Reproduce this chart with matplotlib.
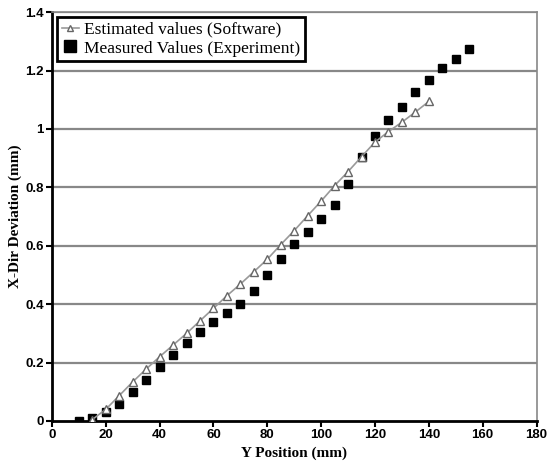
import numpy as np
import matplotlib.pyplot as plt
from matplotlib.lines import Line2D

# Estimated values (Software)
est_x = [15, 20, 25, 30, 35, 40, 45, 50, 55, 60, 65, 70, 75, 80, 85, 90,
         95, 100, 105, 110, 115, 120, 125, 130, 135, 140]
est_y = [0.005, 0.04, 0.087, 0.134, 0.178, 0.22, 0.26, 0.30, 0.343, 0.386,
         0.429, 0.469, 0.511, 0.554, 0.604, 0.652, 0.703, 0.753, 0.806,
         0.854, 0.905, 0.955, 0.991, 1.023, 1.058, 1.094]

# Measured values (Experiment)
meas_x = [10, 15, 20, 25, 30, 35, 40, 45, 50, 55, 60, 65, 70, 75, 80, 85,
          90, 95, 100, 105, 110, 115, 120, 125, 130, 135, 140, 145, 150, 155]
meas_y = [0.0, 0.011, 0.032, 0.058, 0.099, 0.140, 0.184, 0.225, 0.266,
          0.306, 0.338, 0.369, 0.40, 0.446, 0.50, 0.555, 0.606, 0.647,
          0.691, 0.741, 0.81, 0.904, 0.976, 1.03, 1.074, 1.126, 1.168,
          1.21, 1.239, 1.273]

fig = plt.figure(figsize=(5.5, 4.66), dpi=100)
ax = fig.add_axes([0.0945, 0.0966, 0.881, 0.8774])

for yv in np.arange(0.2, 1.41, 0.2):
    ax.axhline(yv, color='#888888', lw=1.6, zorder=0)

ax.plot(meas_x, meas_y, linestyle='none', marker='s', ms=5.5, color='black',
        zorder=2)
ax.plot(est_x, est_y, color='#999999', lw=1.2, marker='^', ms=6,
        mfc='white', mec='#666666', mew=1.0, zorder=3)

ax.set_xlim(0, 180)
ax.set_ylim(0, 1.4)
ax.set_xticks(range(0, 181, 20))
ax.set_yticks([0, 0.2, 0.4, 0.6, 0.8, 1, 1.2, 1.4])
ax.set_yticklabels(['0', '0.2', '0.4', '0.6', '0.8', '1', '1.2', '1.4'])

for lab in ax.get_xticklabels() + ax.get_yticklabels():
    lab.set_fontfamily('Liberation Sans')
    lab.set_fontweight('bold')
    lab.set_fontsize(9.5)

ax.tick_params(axis='both', direction='out', length=4, width=1.5, color='black', pad=2)
ax.spines['left'].set_linewidth(2)
ax.spines['bottom'].set_linewidth(2)
ax.spines['top'].set_color('#888888')
ax.spines['right'].set_color('#888888')
ax.spines['top'].set_linewidth(1.2)
ax.spines['right'].set_linewidth(1.2)

ax.set_xlabel('Y Position (mm)', fontfamily='Liberation Serif',
              fontweight='bold', fontsize=11)
ax.set_ylabel('X-Dir Deviation (mm)', fontfamily='Liberation Serif',
              fontweight='bold', fontsize=11, labelpad=2)

handles = [
    Line2D([0], [0], color='#999999', lw=1.2, marker='^', ms=5,
           mfc='white', mec='#666666'),
    Line2D([0], [0], linestyle='none', marker='s', ms=8, color='black'),
]
leg = ax.legend(handles, ['Estimated values (Software)',
                          'Measured Values (Experiment)'],
                loc='upper left', bbox_to_anchor=(0.0, 1.0),
                prop={'family': 'Liberation Serif', 'size': 12.5},
                frameon=True, fancybox=False, handlelength=1.0,
                handletextpad=0.3, borderpad=0.25, labelspacing=0.15,
                borderaxespad=0.3)
leg.get_frame().set_edgecolor('black')
leg.get_frame().set_linewidth(2)
leg.get_frame().set_alpha(1)

fig.savefig('out.png', dpi=100)
